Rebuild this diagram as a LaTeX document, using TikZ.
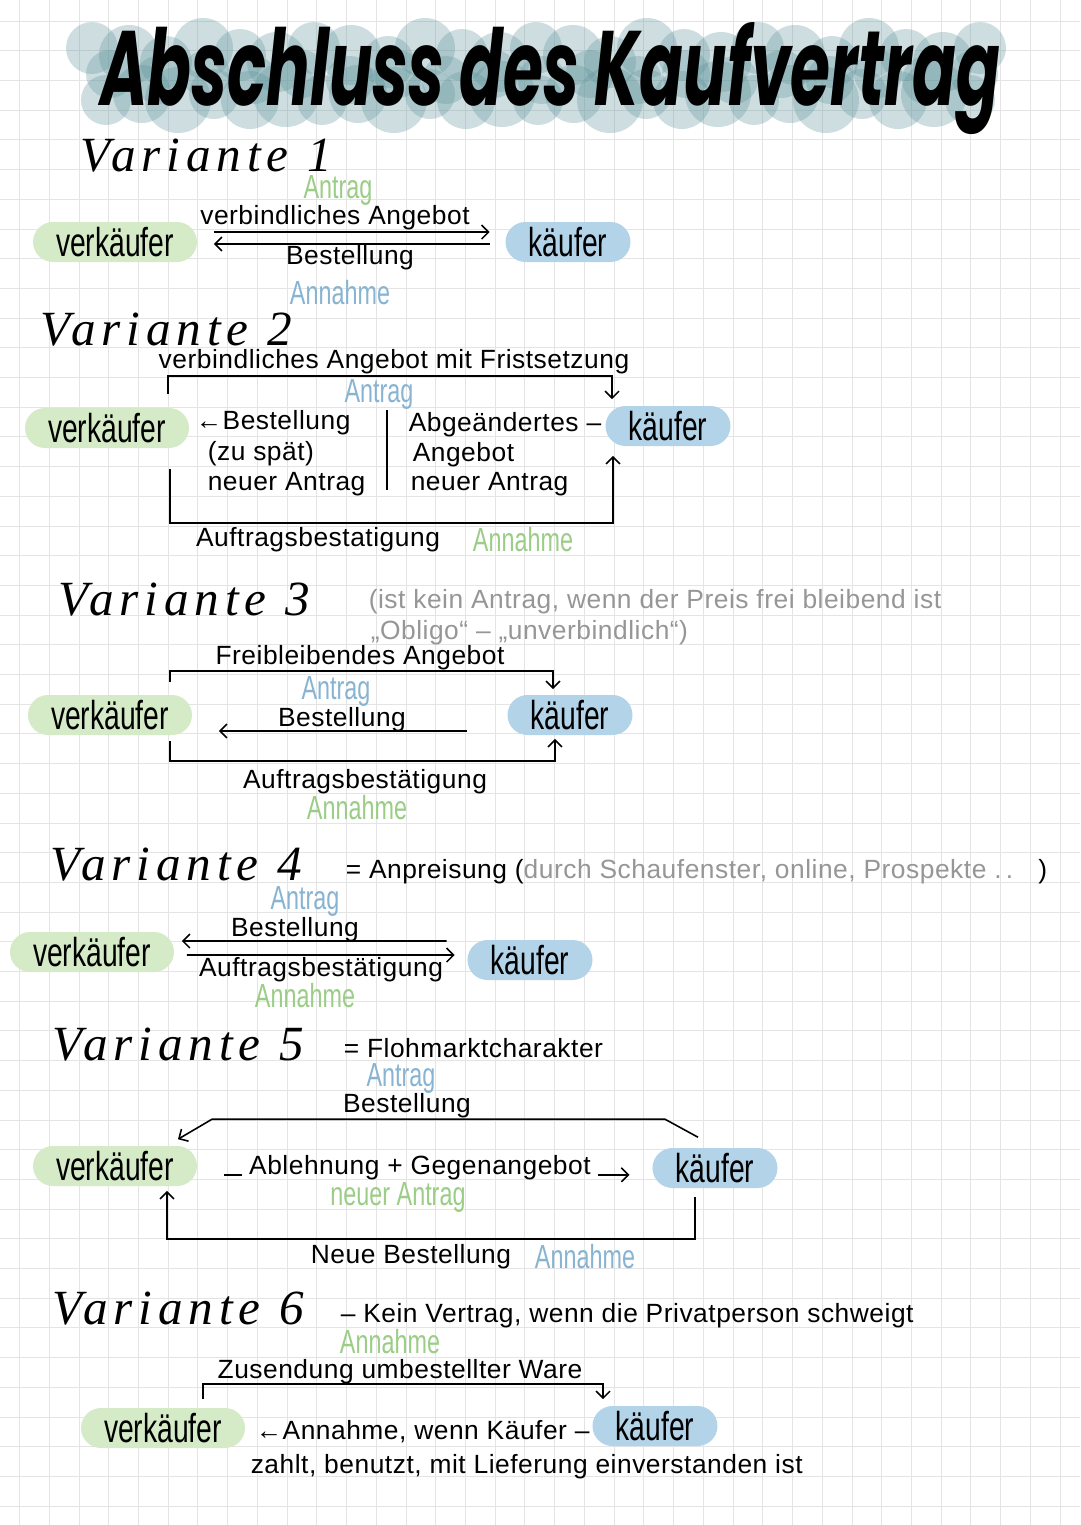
\documentclass[tikz,border=0pt]{standalone}
\usepackage{graphicx}
\usepackage{fontspec}
\usetikzlibrary{arrows.meta}
\setmainfont{Liberation Sans}[LetterSpace=2]
\newfontfamily\tallf{Liberation Sans}[FakeStretch=0.7]
\newfontfamily\headf{Liberation Serif}[LetterSpace=12]
\newfontfamily\titlef{Poppins}[FakeStretch=0.5]
\definecolor{pillgreen}{RGB}{213,234,198}
\definecolor{pillblue}{RGB}{178,211,232}
\definecolor{antragg}{RGB}{155,205,135}
\definecolor{annahmeb}{RGB}{135,180,210}
\definecolor{notegray}{RGB}{150,150,150}
\definecolor{gridc}{RGB}{228,228,228}
\definecolor{blobc}{RGB}{95,148,155}

\begin{document}
\begin{tikzpicture}[x=0.02cm,y=-0.02cm,line width=0.9pt,
	>={Straight Barb[length=4pt,width=8pt]},
	verk/.style={fill=pillgreen,rounded corners=0.4cm,minimum width=3.28cm,
		minimum height=0.8cm,inner sep=0pt,font=\tallf\fontsize{23}{23}\selectfont},
	kauf/.style={verk,fill=pillblue,minimum width=2.5cm},
	lab/.style={inner sep=0pt,font=\fontsize{15}{18}\selectfont},
	grn/.style={inner sep=0pt,text=antragg,font=\tallf\fontsize{19}{19}\selectfont},
	blu/.style={grn,text=annahmeb},
	head/.style={inner sep=0pt,anchor=base west,font=\headf\itshape\fontsize{28}{28}\selectfont},
	note/.style={lab,text=notegray},
	gridl/.style={line width=0.5pt,draw=gridc},
	blob/.style={fill=blobc,fill opacity=0.3}]
	\fill[white] (0,0) rectangle (1080,1525);
	\useasboundingbox (0,0) rectangle (1080,1525);
	% grid
	\foreach \i in {0,...,36} \draw[gridl] ({19.5+29.73*\i},0) -- ({19.5+29.73*\i},1525);
	\foreach \j in {0,...,51} \draw[gridl] (0,{21.1+29.7*\j}) -- (1080,{21.1+29.7*\j});
	% title
	\foreach \i in {0,...,24} {
		\fill[blob] ({92+37*\i},{48+7*mod(\i,3)}) circle ({26+4*mod(\i,2)});
		\fill[blob] ({106+36*\i},{100-6*mod(\i,2)}) circle ({25+4*mod(\i,3)});
	}
	\foreach \i in {0,...,18} \fill[blob] ({110+48*\i},{74+6*mod(\i,2)}) circle (24);
	\node[inner sep=0pt,anchor=base] (ttl) at (550,105) {\resizebox{18cm}{1.66cm}{\titlef\bfseries\itshape Abschluss des Kaufvertrag}};

	% Variante 1
	\node[head] (h1) at (80,171) {Variante 1};
	\node[verk] (v1) at (115,242) {verkäufer};
	\node[kauf] (k1) at (568,242) {käufer};
	\node[grn] (a1) at (338,190) {Antrag};
	\node[lab] (o1) at (335,218) {verbindliches Angebot};
	\node[lab] (b1) at (350,258) {Bestellung};
	\node[blu] (n1) at (340,293) {Annahme};
	\draw[->] ([xshift=0.32cm,yshift=0.2cm]v1.east) -- ([xshift=-0.3cm,yshift=0.2cm]k1.west);
	\draw[<-] ([xshift=0.32cm,yshift=-0.04cm]v1.east) -- ([xshift=-0.3cm,yshift=-0.04cm]k1.west);

	% Variante 2
	\node[head] (h2) at (40,345) {Variante 2};
	\node[lab] (o2) at (394,362) {verbindliches Angebot mit Fristsetzung};
	\node[verk] (v2) at (107,428) {verkäufer};
	\node[kauf] (k2) at (668,426) {käufer};
	\node[blu] (a2) at (379,394) {Antrag};
	\draw[->] ([xshift=1.22cm,yshift=0.26cm]v2.north) -- ++(0,-18) -| ([xshift=-1.12cm,yshift=0.12cm]k2.north);
	\node[lab,anchor=west] (b2) at (195,423) {←Bestellung};
	\node[lab,anchor=west] (s2) at (207,454) {(zu spät)};
	\node[lab,anchor=west] (r2) at (207,484) {neuer Antrag};
	\draw (387,410) -- (387,490);
	\node[lab,anchor=west] (g2) at (408,425) {Abgeändertes –};
	\node[lab,anchor=west] (g2b) at (412,455) {Angebot};
	\node[lab,anchor=west] (g2c) at (410,484) {neuer Antrag};
	\draw[->] ([xshift=1.26cm,yshift=-0.4cm]v2.south) -- ++(0,54) -| ([xshift=-1.1cm,yshift=-0.18cm]k2.south);
	\node[lab] (c2) at (318,540) {Auftragsbestatigung};
	\node[grn] (n2) at (523,540) {Annahme};

	% Variante 3
	\node[head] (h3) at (58,615) {Variante 3};
	\node[note,anchor=west] (t3) at (368,602) {(ist kein Antrag, wenn der Preis frei bleibend ist};
	\node[note,anchor=west] (t3b) at (370,633) {„Obligo“ – „unverbindlich“)};
	\node[lab] (o3) at (360,658) {Freibleibendes Angebot};
	\node[verk] (v3) at (110,715) {verkäufer};
	\node[kauf] (k3) at (570,715) {käufer};
	\node[blu] (a3) at (336,691) {Antrag};
	\node[lab] (b3) at (342,720) {Bestellung};
	\draw[->] ([xshift=1.2cm,yshift=0.24cm]v3.north) -- ++(0,-11) -| ([xshift=-0.34cm,yshift=0.1cm]k3.north);
	\draw[<-] ([xshift=0.52cm,yshift=-0.32cm]v3.east) -- ([xshift=-0.8cm,yshift=-0.32cm]k3.west);
	\draw[->] ([xshift=1.2cm,yshift=-0.1cm]v3.south) -- ++(0,20) -| ([xshift=-0.3cm,yshift=-0.06cm]k3.south);
	\node[lab] (c3) at (365,782) {Auftragsbestätigung};
	\node[grn] (n3) at (357,808) {Annahme};

	% Variante 4
	\node[head] (h4) at (50,880) {Variante 4};
	\node[lab,anchor=west] (t4) at (345,872) {= Anpreisung (\textcolor{notegray}{durch Schaufenster, online, Prospekte .\,.}\hspace{0.5cm})};
	\node[blu] (a4) at (305,901) {Antrag};
	\node[lab] (b4) at (295,930) {Bestellung};
	\node[verk] (v4) at (92,952) {verkäufer};
	\node[kauf] (k4) at (530,960) {käufer};
	\draw[<-] ([xshift=0.14cm,yshift=0.22cm]v4.east) -- ([xshift=-0.4cm,yshift=0.38cm]k4.west);
	\draw[->] ([xshift=0.24cm,yshift=-0.06cm]v4.east) -- ([xshift=-0.24cm,yshift=0.1cm]k4.west);
	\node[lab] (c4) at (321,970) {Auftragsbestätigung};
	\node[grn] (n4) at (305,996) {Annahme};

	% Variante 5
	\node[head] (h5) at (52,1060) {Variante 5};
	\node[lab,anchor=west] (t5) at (343,1048) {= Flohmarktcharakter};
	\node[blu] (a5) at (401,1078) {Antrag};
	\node[lab] (b5) at (407,1106) {Bestellung};
	\node[verk] (v5) at (115,1166) {verkäufer};
	\node[kauf] (k5) at (715,1168) {käufer};
	\draw[->] ([xshift=-0.34cm,yshift=0.2cm]k5.north) -- ++(-33,-18) -- ++(-453,0) -- ([xshift=1.26cm,yshift=0.12cm]v5.north);
	\node[lab] (g5) at (420,1168) {Ablehnung + Gegenangebot};
	\draw ([xshift=-0.12cm]g5.base west) -- ++(-18,0);
	\draw[->] ([xshift=0.12cm]g5.base east) -- ++(32,0);
	\node[grn] (r5) at (398,1197) {neuer Antrag};
	\draw[->] ([xshift=-0.4cm,yshift=-0.16cm]k5.south) -- ++(0,42) -| ([xshift=1.04cm,yshift=-0.08cm]v5.south);
	\node[lab] (c5) at (411,1257) {Neue Bestellung};
	\node[blu] (n5) at (585,1257) {Annahme};

	% Variante 6
	\node[head] (h6) at (52,1324) {Variante 6};
	\node[lab,anchor=west] (t6) at (340,1316) {– Kein Vertrag, wenn die Privatperson schweigt};
	\node[grn] (n6) at (390,1342) {Annahme};
	\node[lab] (o6) at (400,1372) {Zusendung umbestellter Ware};
	\node[verk] (v6) at (163,1428) {verkäufer};
	\node[kauf] (k6) at (655,1426) {käufer};
	\draw[->] ([xshift=0.8cm,yshift=0.16cm]v6.north) -- ++(0,-15) -| ([xshift=-1.04cm,yshift=0.12cm]k6.north);
	\node[lab,anchor=west] (b6) at (255,1432) {←Annahme, wenn Käufer –};
	\node[lab,anchor=west] (z6) at (250,1467) {zahlt, benutzt, mit Lieferung einverstanden ist};
\end{tikzpicture}
\end{document}
